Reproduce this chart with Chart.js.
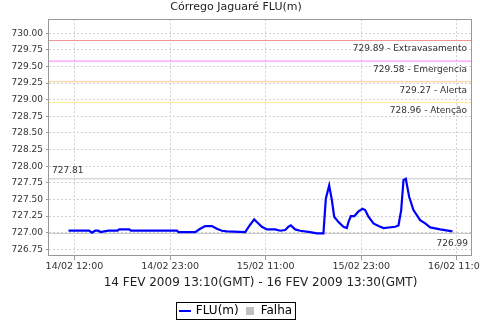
<!DOCTYPE html>
<html>
<head>
<meta charset="utf-8">
<script src="https://cdn.jsdelivr.net/npm/chart.js@4.4.0/dist/chart.umd.min.js"></script>
<style>
html, body { margin: 0; padding: 0; background: #fff; }
#wrap { width: 480px; height: 320px; }
</style>
</head>
<body>
<div id="wrap"><canvas id="myChart" width="480" height="320"></canvas></div>
<script>
// hours counted from the 14/02 12:00 tick
const hours = [-0.75, 0.09, 1.84, 2.18, 2.60, 2.97, 3.31, 3.73, 4.27, 5.40, 5.61, 6.87, 7.08, 9.50, 12.85, 13.05,
    15.15, 15.78, 16.41, 17.25, 17.87, 18.50, 19.13, 21.43, 22.05, 22.56, 22.89, 23.52, 24.15, 25.19, 25.82, 26.45,
    26.86, 27.16, 27.70, 28.33, 29.58, 30.43, 31.25, 31.55, 31.97, 32.31, 32.60, 33.14, 33.76, 34.19, 34.39, 34.69,
    35.14, 35.65, 36.15, 36.49, 36.90, 37.53, 38.16, 38.79, 40.25, 40.67, 41.01, 41.30, 41.59, 42.01, 42.55, 43.39,
    44.02, 44.65, 45.90, 47.45];
const levels = [727.03, 727.03, 727.03, 727.00, 727.03, 727.03, 727.01, 727.02, 727.03, 727.03, 727.05, 727.05, 727.03, 727.03, 727.03, 727.01,
    727.01, 727.06, 727.10, 727.10, 727.06, 727.03, 727.02, 727.01, 727.12, 727.20, 727.16, 727.09, 727.05, 727.05, 727.03, 727.04,
    727.09, 727.11, 727.05, 727.03, 727.01, 726.99, 726.99, 727.51, 727.71, 727.49, 727.24, 727.16, 727.09, 727.07, 727.16, 727.25,
    727.25, 727.32, 727.36, 727.34, 727.24, 727.14, 727.10, 727.07, 727.09, 727.11, 727.34, 727.79, 727.81, 727.54, 727.34, 727.19,
    727.14, 727.08, 727.05, 727.02];

const xTicks = [0, 12, 24, 36, 48];
const xTickLabels = ['14/02 12:00', '14/02 23:00', '15/02 11:00', '15/02 23:00', '16/02 11:00'];
const yTicks = [726.75, 727.00, 727.25, 727.50, 727.75, 728.00, 728.25, 728.50, 728.75, 729.00, 729.25, 729.50, 729.75, 730.00];

const markerValues = [729.89, 729.58, 729.27, 728.96];
const markerNames = ['Extravasamento', 'Emergencia', 'Alerta', 'Atenção'];
const markerColors = ['#f09494', '#ff80ff', '#ffc890', '#ffe890'];

const xMin = -3.2, xMax = 49.9;
const maxLevel = Math.max(...levels);
const minLevel = Math.min(...levels);

function flat(v) {
    return [{x: xMin, y: v}, {x: xMax, y: v}];
}
function icon(w, h, color) {
    let c = document.createElement('canvas');
    c.width = w; c.height = h;
    let g = c.getContext('2d');
    g.fillStyle = color;
    g.fillRect(0, 0, w, h);
    return c;
}

let datasets = [
    {label: 'FLU(m)', data: hours.map((h, i) => ({x: h, y: levels[i]})), borderColor: '#0000ff', borderWidth: 2.2, pointRadius: 0, tension: 0},
    {label: 'Falha', data: [], borderColor: '#c0c0c0', backgroundColor: '#c0c0c0', pointRadius: 0}
];
datasets.push({label: 'max', data: flat(maxLevel), borderColor: '#c4c4c4', borderWidth: 1, pointRadius: 0});
datasets.push({label: 'min', data: flat(minLevel), borderColor: '#c4c4c4', borderWidth: 1, pointRadius: 0});
markerValues.forEach((v, i) => {
    datasets.push({label: markerNames[i], data: flat(v), borderColor: markerColors[i], borderWidth: 1, pointRadius: 0});
});

const legendIcons = [icon(12, 2, '#0000ff'), icon(8, 8, '#c0c0c0')];

const extras = {
    id: 'extras',
    afterDatasetsDraw(chart) {
        let ctx = chart.ctx, a = chart.chartArea, y = chart.scales.y;
        ctx.save();
        ctx.strokeStyle = '#999';
        ctx.lineWidth = 1;
        ctx.strokeRect(Math.round(a.left) - 0.5, Math.round(a.top) + 0.5, Math.round(a.right - a.left), Math.round(a.bottom - a.top) - 1);
        ctx.font = '9px "DejaVu Sans"';
        ctx.fillStyle = '#333';
        ctx.textBaseline = 'middle';
        ctx.textAlign = 'right';
        markerValues.forEach((v, i) => {
            ctx.fillText(v.toFixed(2) + ' - ' + markerNames[i], a.right - 5, y.getPixelForValue(v) + 8.5);
        });
        ctx.fillText(minLevel.toFixed(2), a.right - 4, y.getPixelForValue(minLevel) + 10);
        ctx.textAlign = 'left';
        ctx.fillText(maxLevel.toFixed(2), a.left + 3, y.getPixelForValue(maxLevel) - 8);
        ctx.restore();
    },
    afterDraw(chart) {
        let boxes = chart.legend.legendHitBoxes;
        if (!boxes || !boxes.length) return;
        let first = boxes[0], last = boxes[boxes.length - 1];
        let cy = first.top + first.height / 2;
        let ctx = chart.ctx;
        ctx.save();
        ctx.strokeStyle = '#000';
        ctx.lineWidth = 1;
        ctx.strokeRect(Math.round(first.left) - 3.5, Math.round(cy - 9) + 0.5, Math.round(last.left + last.width - first.left) + 7, 17);
        ctx.restore();
    }
};

const ctx = document.getElementById('myChart');
new Chart(ctx, {
    type: 'line',
    data: {datasets: datasets},
    plugins: [extras],
    options: {
        responsive: false,
        animation: false,
        layout: {padding: {left: 0, right: 8, top: 0, bottom: -7}},
        plugins: {
            tooltip: {enabled: false},
            title: {
                display: true,
                text: 'Córrego Jaguaré FLU(m)',
                color: '#222',
                font: {family: 'DejaVu Sans', size: 11, weight: 'normal'},
                padding: {top: 1, bottom: 5}
            },
            legend: {
                position: 'bottom',
                labels: {
                    usePointStyle: true,
                    pointStyleWidth: 10,
                    padding: 6,
                    color: '#000',
                    font: {family: 'DejaVu Sans', size: 12},
                    generateLabels: chart => chart.data.datasets.slice(0, 2).map((d, i) => ({
                        text: d.label,
                        pointStyle: legendIcons[i],
                        fillStyle: d.borderColor,
                        strokeStyle: d.borderColor,
                        lineWidth: 0,
                        datasetIndex: i,
                        hidden: false
                    }))
                }
            }
        },
        scales: {
            x: {
                type: 'linear',
                min: xMin,
                max: xMax,
                afterBuildTicks: s => { s.ticks = xTicks.map(v => ({value: v})); },
                afterFit: s => { s.height = 43; s.paddingLeft = 0; s.paddingRight = 0; },
                border: {display: false, dash: [2, 2]},
                grid: {color: '#d0d0d0', tickLength: 4, tickColor: '#999', tickBorderDash: []},
                ticks: {
                    autoSkip: false,
                    maxRotation: 0,
                    padding: 1,
                    color: '#333',
                    font: {family: 'DejaVu Sans', size: 9.5},
                    callback: v => xTickLabels[xTicks.indexOf(v)]
                },
                title: {
                    display: true,
                    text: '14 FEV 2009 13:10(GMT) - 16 FEV 2009 13:30(GMT)',
                    color: '#222',
                    font: {family: 'DejaVu Sans', size: 12},
                    padding: {top: 0, bottom: 9}
                }
            },
            y: {
                min: 726.65,
                max: 730.21,
                afterBuildTicks: s => { s.ticks = yTicks.map(v => ({value: v})); },
                afterFit: s => { s.width = 49; s.paddingTop = 0; s.paddingBottom = 0; },
                border: {display: false, dash: [2, 2]},
                grid: {color: '#d0d0d0', tickLength: 3, tickColor: '#999', tickBorderDash: []},
                ticks: {
                    padding: 3,
                    color: '#333',
                    font: {family: 'DejaVu Sans', size: 9},
                    callback: v => v.toFixed(2)
                }
            }
        }
    }
});
</script>
</body>
</html>
